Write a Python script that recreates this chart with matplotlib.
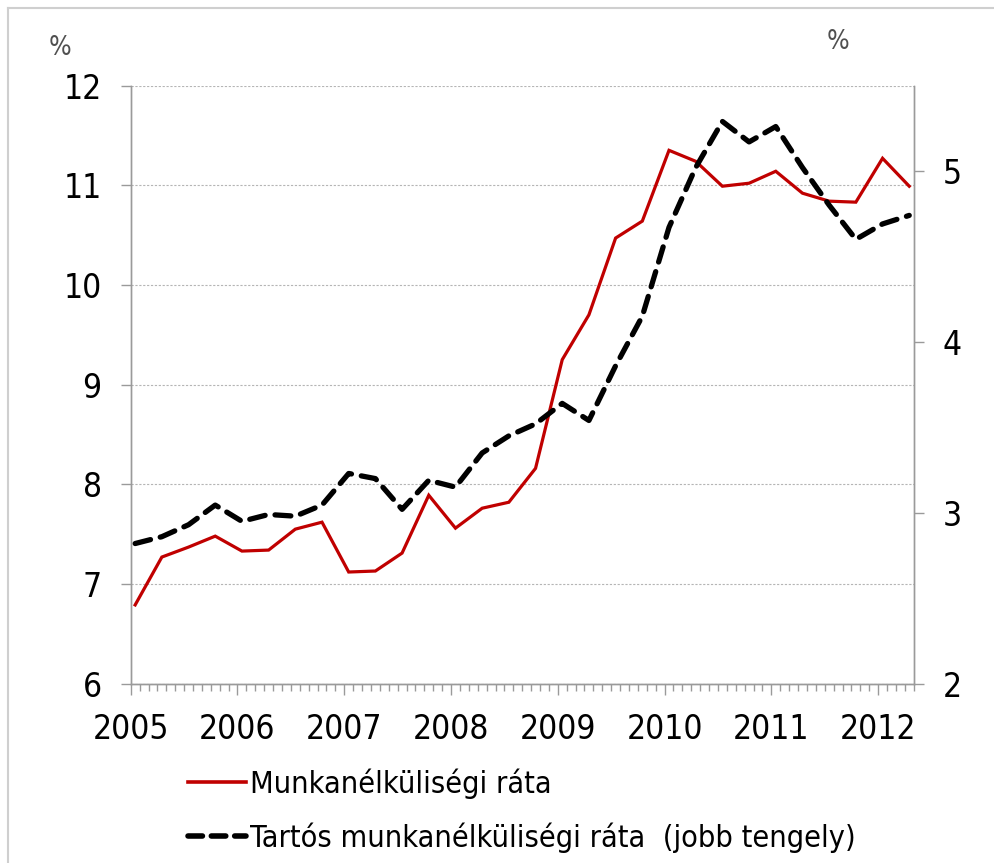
import numpy as np
import matplotlib.pyplot as plt
from matplotlib.lines import Line2D

plt.rcParams['font.family'] = ['DejaVu Sans']
plt.rcParams['font.stretch'] = 'condensed'

# quarterly observations 2005Q1 .. 2012Q2
quarters = [f"{y}Q{q}" for y in range(2005, 2013) for q in range(1, 5)][:30]

unemployment = [6.79, 7.27, 7.37, 7.48, 7.33, 7.34, 7.55, 7.62,
                7.12, 7.13, 7.31, 7.89, 7.56, 7.76, 7.82, 8.16,
                9.25, 9.70, 10.47, 10.64, 11.35, 11.24, 10.99, 11.02,
                11.14, 10.92, 10.84, 10.83, 11.27, 10.99]

long_term = [2.82, 2.86, 2.93, 3.045, 2.95, 2.99, 2.98, 3.045,
             3.23, 3.20, 3.02, 3.19, 3.15, 3.35, 3.45, 3.52,
             3.64, 3.54, 3.86, 4.15, 4.67, 5.02, 5.29, 5.17,
             5.26, 5.02, 4.80, 4.60, 4.69, 4.74]

years = list(range(2005, 2013))
left_ticks = [6, 7, 8, 9, 10, 11, 12]
right_ticks = [2, 3, 4, 5]

label_red = "Munkanélküliségi ráta"
label_black = "Tartós munkanélküliségi ráta  (jobb tengely)"


def quarter_pos(label):
    # first month of the quarter, centred in the month
    y, q = int(label[:4]), int(label[-1])
    return y + (3 * (q - 1) + 0.5) / 12


x = [quarter_pos(q) for q in quarters]
x_end = 2005 + 88 / 12

fig = plt.figure(figsize=(9.94, 8.63), dpi=100)
ax = fig.add_axes([0.1315, 0.2078, 0.9192 - 0.1315, 0.9009 - 0.2078])
ax2 = ax.twinx()

red = '#C00000'
axis_grey = '#9a9a9a'

ax.plot(x, unemployment, color=red, lw=2.3, solid_joinstyle='miter', zorder=3)
ax2.plot(x, long_term, color='black', lw=3.8, dashes=(3.0, 1.9),
         dash_capstyle='round', zorder=3)

ax.set_xlim(2005, x_end)
ax.set_ylim(6, 12)
ax2.set_ylim(2, 5.5)

ax.set_yticks(left_ticks)
ax2.set_yticks(right_ticks)
ax.set_xticks(years)
ax.set_xticks(np.arange(2005, x_end + 1e-9, 1 / 12), minor=True)
ax.set_xticklabels([str(y) for y in years])

ax.grid(axis='y', color='#b5b5b5', ls=(0, (2, 1.5)), lw=0.8)
ax.set_axisbelow(True)

for a in (ax, ax2):
    a.spines['top'].set_visible(False)
    for s in ('left', 'right', 'bottom'):
        a.spines[s].set_color(axis_grey)
        a.spines[s].set_linewidth(1.0)

ax.tick_params(axis='y', length=7, width=1, color=axis_grey, pad=14,
               labelsize=24)
ax2.tick_params(axis='y', length=7, width=1, color=axis_grey, pad=14,
                labelsize=24)
ax.tick_params(axis='x', which='major', length=8, width=1, color=axis_grey,
               pad=13, labelsize=24)
ax.tick_params(axis='x', which='minor', length=5, width=1, color=axis_grey)

fig.text(60 / 994, 1 - 48 / 863, '%', fontsize=19, color='#505050',
         ha='center', va='center')
fig.text(838 / 994, 1 - 42 / 863, '%', fontsize=19, color='#505050',
         ha='center', va='center')

handles = [Line2D([], [], color=red, lw=2.6),
           Line2D([], [], color='black', lw=4.0, dashes=(2.6, 1.6),
                  dash_capstyle='round')]
fig.legend(handles, [label_red, label_black], loc='upper left',
           bbox_to_anchor=(188 / 994, 1 - 768 / 863), frameon=False,
           fontsize=22, handlelength=1.9, handletextpad=0.12,
           labelspacing=0.78, borderpad=0, borderaxespad=0)

# light frame around the chart area (top and left edges visible)
fig.add_artist(Line2D([8 / 994, 8 / 994], [0, 1 - 8 / 863],
                      color='#cfcfcf', lw=1.5))
fig.add_artist(Line2D([8 / 994, 1], [1 - 8 / 863, 1 - 8 / 863],
                      color='#cfcfcf', lw=1.5))

fig.savefig('out.png', dpi=100)
